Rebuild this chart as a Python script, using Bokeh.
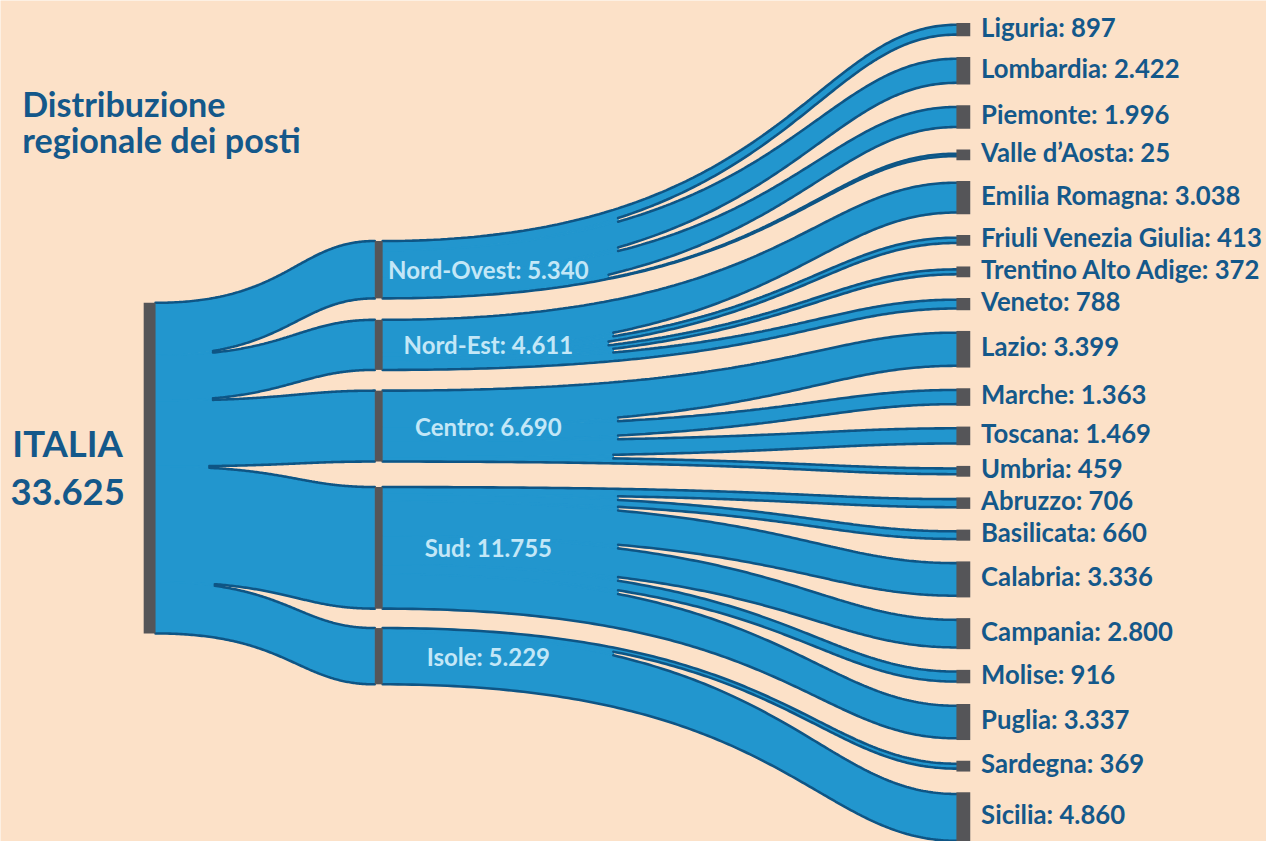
import numpy as np
from bokeh.plotting import figure
from bokeh.models import ColumnDataSource, Range1d
from bokeh.embed import file_html
from bokeh.resources import INLINE
from bokeh.core.properties import value

# ---------------- data ----------------
title_lines = ["Distribuzione", "regionale dei posti"]
root_name = "ITALIA"
root_total = 33625
macro_names = ["Nord-Ovest", "Nord-Est", "Centro", "Sud", "Isole"]
macro_values = [5340, 4611, 6690, 11755, 5229]
region_names = ["Liguria", "Lombardia", "Piemonte", "Valle d\u2019Aosta",
                "Emilia Romagna", "Friuli Venezia Giulia", "Trentino Alto Adige", "Veneto",
                "Lazio", "Marche", "Toscana", "Umbria",
                "Abruzzo", "Basilicata", "Calabria", "Campania", "Molise", "Puglia",
                "Sardegna", "Sicilia"]
region_macro = [0, 0, 0, 0, 1, 1, 1, 1, 2, 2, 2, 2, 3, 3, 3, 3, 3, 3, 4, 4]
region_values = [897, 2422, 1996, 25, 3038, 413, 372, 788, 3399, 1363, 1469, 459,
                 706, 660, 3336, 2800, 916, 3337, 369, 4860]

# ---------------- style ----------------
BG = "#FCE1C8"
FILL = "#2296CE"
EDGE = "#0E5585"
BAR = "#555558"
TXT = "#14588A"
LIGHT = "#C3E7F7"
FONT = "Lato"

W, H = 1266, 841          # figure size in screen pixels
VW, VH = 1282, 857        # layout units
S = W / VW


def fs(px):
    return f"{px * S:.1f}px"


def fmt(v):
    return f"{v:,}".replace(",", ".")


# ---------------- layout ----------------
X0L, X0R = 145, 157
X1L, X1R = 379, 387
X2L, X2R = 968, 982
LABEL_X = 993
K0 = 0.01002
K1 = 0.0102
K2 = 0.0095
Y_TOP, Y_BOT = 23, 858

# region nodes
r_h = [max(11.0, v * K2 + 5) for v in region_values]
gap = (Y_BOT - Y_TOP - sum(r_h)) / (len(r_h) - 1)
r_top = []
y = Y_TOP
for h in r_h:
    r_top.append(y)
    y += h + gap
r_bot = [t + h for t, h in zip(r_top, r_h)]
r_mid = [(t + b) / 2 for t, b in zip(r_top, r_bot)]

# root node
root_h = root_total * K0
root_mid = 476.5
root_top = root_mid - root_h / 2
root_bot = root_mid + root_h / 2

# root segments
seg_top = []
y = root_top
for v in macro_values:
    seg_top.append(y)
    y += v * K0
seg_bot = [t + v * K0 for t, v in zip(seg_top, macro_values)]

# macro nodes
m_h = [v * K1 + 4 for v in macro_values]
m_top, m_bot, m_mid = [], [], []
for i in range(len(macro_values)):
    kids = [j for j, m in enumerate(region_macro) if m == i]
    child_c = (r_top[kids[0]] + r_bot[kids[-1]]) / 2
    seg_c = (seg_top[i] + seg_bot[i]) / 2
    c = seg_c + 0.25 * (child_c - seg_c)
    m_mid.append(c)
    m_top.append(c - m_h[i] / 2)
    m_bot.append(c + m_h[i] / 2)


def f_s(t):
    return 3 * t ** 2 - 2 * t ** 3


T = np.linspace(0, 1, 160)


def curve(x0, y0, x1, y1, a, b):
    c0 = x0 + a * (x1 - x0)
    c1 = x1 - b * (x1 - x0)
    x = (1 - T) ** 3 * x0 + 3 * (1 - T) ** 2 * T * c0 + 3 * (1 - T) * T ** 2 * c1 + T ** 3 * x1
    yy = y0 + (y1 - y0) * f_s(T)
    return x, yy


fill_xs, fill_ys = [], []
line_xs, line_ys = [], []


def add_group(xs, xt, src_tops, src_bots, tgt_tops, tgt_bots, a, b, g):
    n = len(src_tops)
    tops = [curve(xs, src_tops[i], xt, tgt_tops[i], a, b) for i in range(n)]
    bots = [curve(xs, src_bots[i], xt, tgt_bots[i], a, b) for i in range(n)]
    for i in range(n):
        fill_xs.append(list(tops[i][0]) + list(bots[i][0][::-1]))
        fill_ys.append(list(tops[i][1]) + list(bots[i][1][::-1]))
    start_top = [0] * n
    start_bot = [0] * n
    for i in range(n - 1):
        d = tgt_tops[i + 1] - tgt_bots[i]
        need = min(0.99, g / max(d, 1e-6))
        idx = int(np.argmax(f_s(T) >= need))
        start_bot[i] = idx
        start_top[i + 1] = idx
        bx, by = bots[i]
        tx, ty = tops[i + 1]
        fill_xs.append(list(bx[:idx + 1]) + list(tx[:idx + 1][::-1]))
        fill_ys.append(list(by[:idx + 1]) + list(ty[:idx + 1][::-1]))
    for i in range(n):
        line_xs.append(list(tops[i][0][start_top[i]:]))
        line_ys.append(list(tops[i][1][start_top[i]:]))
        line_xs.append(list(bots[i][0][start_bot[i]:]))
        line_ys.append(list(bots[i][1][start_bot[i]:]))


# level 1 : Italia -> macro areas
add_group(X0R, X1L, seg_top, seg_bot, m_top, m_bot, 0.6, 0.35, 1.6)

# level 2 : macro areas -> regions
for i, mv in enumerate(macro_values):
    kids = [j for j, m in enumerate(region_macro) if m == i]
    s_tops, s_bots, t_tops, t_bots = [], [], [], []
    y = m_top[i]
    for j in kids:
        w_src = region_values[j] / mv * m_h[i]
        s_tops.append(y)
        s_bots.append(y + w_src)
        y += w_src
        w_t = max(region_values[j] * K2 + 1.5, 2.5)
        t_tops.append(r_mid[j] - w_t / 2)
        t_bots.append(r_mid[j] + w_t / 2)
    add_group(X1R, X2L, s_tops, s_bots, t_tops, t_bots, 0.7, 0.25, 3.6)

# ---------------- figure ----------------
p = figure(width=W, height=H, output_backend="svg", toolbar_location=None,
           x_range=Range1d(0, VW), y_range=Range1d(VH, 0),
           x_axis_type=None, y_axis_type=None, min_border=0,
           background_fill_color=BG, border_fill_color=BG)
p.grid.visible = False
p.outline_line_color = None

p.patches(xs=fill_xs, ys=fill_ys, fill_color=FILL, line_color=FILL, line_width=1.2)
p.multi_line(xs=line_xs, ys=line_ys, line_color=EDGE, line_width=2.6 * S, line_cap="round")

# node bars
p.quad(left=[X0L], right=[X0R], top=[root_top], bottom=[root_bot], fill_color=BAR, line_color=None)
p.quad(left=[X1L] * len(m_top), right=[X1R] * len(m_top), top=m_top, bottom=m_bot,
       fill_color=BAR, line_color=None)
p.quad(left=[X2L] * len(r_top), right=[X2R] * len(r_top), top=r_top, bottom=r_bot,
       fill_color=BAR, line_color=None)

# labels
reg_src = ColumnDataSource(dict(x=[LABEL_X] * len(region_names), y=[m - 3 for m in r_mid],
                                t=[f"{n}: {fmt(v)}" for n, v in zip(region_names, region_values)]))
p.text(x="x", y="y", text="t", source=reg_src, text_font=value(FONT), text_font_style="bold",
       text_font_size=fs(26), text_color=TXT, text_baseline="middle", text_align="left")

mac_src = ColumnDataSource(dict(x=[494] * len(macro_names), y=m_mid,
                                t=[f"{n}: {fmt(v)}" for n, v in zip(macro_names, macro_values)]))
p.text(x="x", y="y", text="t", source=mac_src, text_font=value(FONT), text_font_style="bold",
       text_font_size=fs(24.3), text_color=LIGHT, text_baseline="middle", text_align="center")

p.text(x=[68, 68], y=[root_mid - 26, root_mid + 24], text=[root_name, fmt(root_total)],
       text_font=value(FONT), text_font_style="bold", text_font_size=fs(37), text_color=TXT,
       text_baseline="middle", text_align="center")

p.text(x=[22, 22], y=[105, 142], text=title_lines, text_font=value(FONT), text_font_style="bold",
       text_font_size=fs(34.5), text_color=TXT, text_baseline="middle", text_align="left")

open("out.html", "w").write(file_html(p, INLINE))
